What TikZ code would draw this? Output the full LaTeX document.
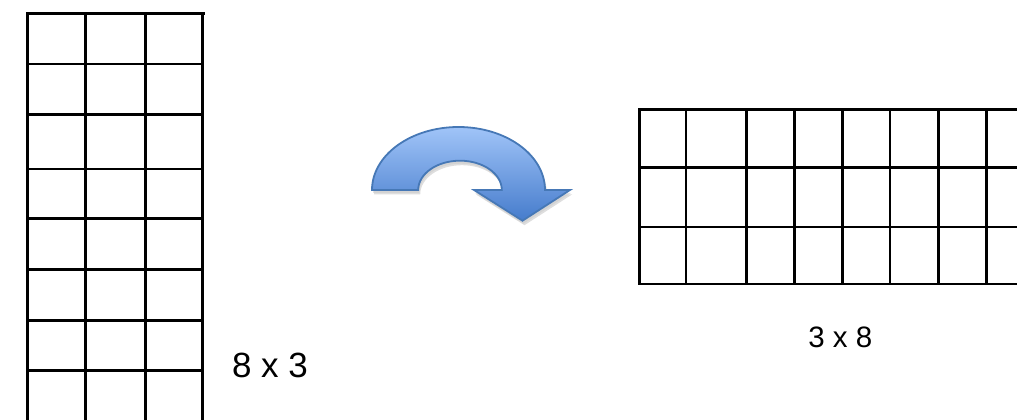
\documentclass[tikz,border=0pt]{standalone}
\usepackage{fontspec}
\setmainfont{Liberation Sans}
\definecolor{arrowline}{RGB}{70,120,182}
\definecolor{arrowtop}{RGB}{160,196,248}
\definecolor{arrowbot}{RGB}{70,124,204}
\definecolor{shadowgray}{RGB}{200,200,200}
\tikzset{
  gridline/.style={line width=2.5pt, black},
  dimlabel/.style={inner sep=0pt, anchor=center},
}
\begin{document}
\begin{tikzpicture}[x=1pt,y=1pt]
\useasboundingbox (0,0) rectangle (1017,420);
\clip (0,0) rectangle (1017,420);
% left grid 8 x 3
\foreach \yy in {406.7,356,305.7,251,201.3,150.7,99.3,49.7}
  \draw[gridline] (27.5,\yy) -- (202.5,\yy);
\draw[gridline] (202.5,406.7) -- (204.5,406.7);
\foreach \xx in {27.5,85.3,145.3,202.5}
  \draw[gridline] (\xx,407.9) -- (\xx,-5);
% right grid 3 x 8
\foreach \yy in {310.7,252.7,193,136}
  \draw[gridline] (638.1,\yy) -- (1025,\yy);
\foreach \xx in {639.3,686,746.3,794.7,842.3,890,938.7,986.3}
  \draw[gridline] (\xx,311.9) -- (\xx,134.8);
% curved arrow: shadow
\fill[shadowgray, opacity=0.6, shift={(2,-4.5)}]
  (372,230) arc[start angle=180,end angle=0,x radius=86.5,y radius=63]
  -- (570,230) -- (522.5,199.3) -- (474,230) -- (501.8,230)
  arc[start angle=0,end angle=180,x radius=41.8,y radius=29.3] -- cycle;
\fill[shadowgray, opacity=0.5, shift={(1,-3)}]
  (372,230) arc[start angle=180,end angle=0,x radius=86.5,y radius=63]
  -- (570,230) -- (522.5,199.3) -- (474,230) -- (501.8,230)
  arc[start angle=0,end angle=180,x radius=41.8,y radius=29.3] -- cycle;
% curved arrow
\draw[arrowline, line width=1.8pt, line join=miter, top color=arrowtop, bottom color=arrowbot]
  (372,230) arc[start angle=180,end angle=0,x radius=86.5,y radius=63]
  -- (570,230) -- (522.5,199.3) -- (474,230) -- (501.8,230)
  arc[start angle=0,end angle=180,x radius=41.8,y radius=29.3] -- cycle;
% labels
\node[dimlabel, font=\fontsize{35}{40}\selectfont] (lab83) at (270,55) {8 x 3};
\node[dimlabel, font=\fontsize{29.5}{34}\selectfont] (lab38) at (840.3,83) {3 x 8};
\end{tikzpicture}
\end{document}
